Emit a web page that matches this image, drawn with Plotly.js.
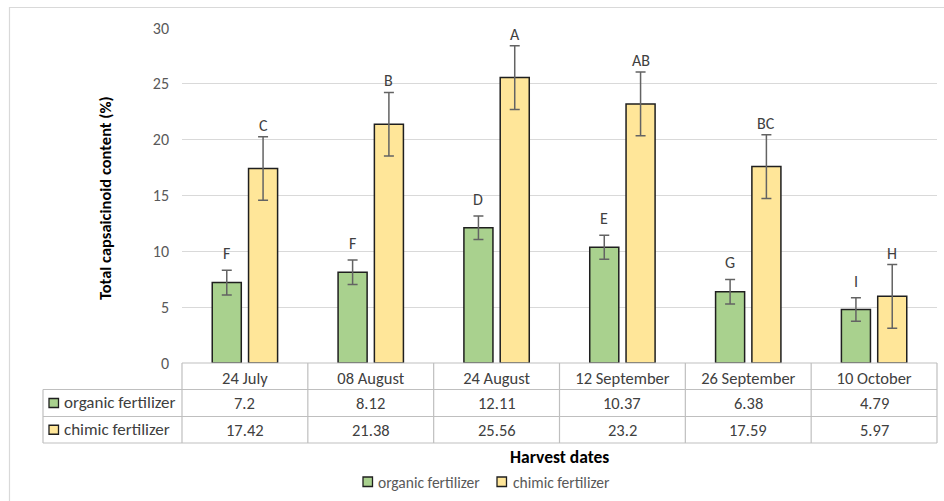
<!DOCTYPE html>
<html>
<head>
<meta charset="utf-8">
<script src="https://cdn.plot.ly/plotly-3.0.1.min.js"></script>
<style>
html,body{margin:0;padding:0;background:#fff;}
#chart{width:944px;height:501px;}
</style>
</head>
<body>
<div id="chart"></div>
<script>
// ---- data ----
var dates = ["24 July", "08 August", "24 August", "12 September", "26 September", "10 October"];
var seriesNames = ["organic fertilizer", "chimic fertilizer"];
var organic = [7.2, 8.12, 12.11, 10.37, 6.38, 4.79];
var chimic = [17.42, 21.38, 25.56, 23.2, 17.59, 5.97];
var organicErr = [1.1, 1.1, 1.05, 1.07, 1.1, 1.06];
var chimicErr = [2.85, 2.85, 2.85, 2.85, 2.85, 2.85];
var organicLetters = ["F", "F", "D", "E", "G", "I"];
var chimicLetters = ["C", "B", "A", "AB", "BC", "H"];
var yTicks = [0, 5, 10, 15, 20, 25, 30];

// ---- style ----
var FONT = "Calibri, Carlito, Lato, sans-serif";
var GREEN = "#a9d18e", YELLOW = "#ffe699", EDGE = "#1f1f1f";
var GRID = "#d9d9d9", TBL = "#bfbfbf", TXT = "#404040", TICK = "#595959";
var W = 944, H = 501;
var M = {l: 182, r: 7, t: 28, b: 138};
var PW = W - M.l - M.r, PH = H - M.t - M.b;
function px(x) { return (x - M.l) / PW; }
function py(y) { return (H - M.b - y) / PH; }
var bargap = 0.423;
var off = (1 - bargap) / 4;

var traces = [
  {type: "bar", name: seriesNames[0], x: dates, y: organic,
   marker: {color: GREEN, line: {color: EDGE, width: 1.5}},
   error_y: {type: "data", array: organicErr, visible: true, color: "#636363", thickness: 1.5, width: 5},
   showlegend: false, hoverinfo: "x+y"},
  {type: "bar", name: seriesNames[1], x: dates, y: chimic,
   marker: {color: YELLOW, line: {color: EDGE, width: 1.5}},
   error_y: {type: "data", array: chimicErr, visible: true, color: "#636363", thickness: 1.5, width: 5},
   showlegend: false, hoverinfo: "x+y"}
];

var shapes = [], ann = [];
function line(x0, y0, x1, y1, color, w) {
  shapes.push({type: "line", xref: "paper", yref: "paper", x0: px(x0), y0: py(y0), x1: px(x1), y1: py(y1),
    line: {color: color, width: w || 1}, layer: "above"});
}
// outer border (top & left)
line(9, 7.5, 944, 7.5, "#d9d9d9", 1.2);
line(9.5, 7, 9.5, 501, "#d9d9d9", 1.2);

// table geometry
var rowY = [363, 389.5, 416.5, 443];
var tblLeft = 43, tblRight = M.l + PW;
line(M.l, rowY[0], tblRight, rowY[0], TBL, 1.2);
for (var r = 1; r < rowY.length; r++) line(tblLeft, rowY[r], tblRight, rowY[r], TBL, 1.2);
line(tblLeft, rowY[1], tblLeft, rowY[3], TBL, 1.2);
for (var c = 0; c <= dates.length; c++) {
  var xx = M.l + c * PW / dates.length;
  line(xx, rowY[0], xx, rowY[3], TBL, 1.2);
}
// table rows
var rows = [organic, chimic];
var rowColors = [GREEN, YELLOW];
for (var r = 0; r < 2; r++) {
  var yc = (rowY[r + 1] + rowY[r + 2]) / 2;
  shapes.push({type: "rect", xref: "paper", yref: "paper",
    x0: px(49), x1: px(58.5), y0: py(yc - 4.5), y1: py(yc + 4.5),
    fillcolor: rowColors[r], line: {color: EDGE, width: 1.3}, layer: "above"});
  ann.push({xref: "paper", yref: "paper", x: px(62), y: py(yc), xanchor: "left", yanchor: "middle",
    text: seriesNames[r], showarrow: false, font: {family: FONT, size: 17, color: TXT}});
  for (var i = 0; i < dates.length; i++) {
    ann.push({xref: "x", yref: "paper", x: i, y: py(yc), xanchor: "center", yanchor: "middle",
      text: String(rows[r][i]), showarrow: false, font: {family: FONT, size: 16.5, color: TXT}});
  }
}
// letters above error bars
for (var i = 0; i < dates.length; i++) {
  ann.push({xref: "x", yref: "y", x: i - off, y: organic[i] + organicErr[i], yanchor: "bottom", yshift: 5,
    text: organicLetters[i], showarrow: false, font: {family: FONT, size: 16, color: TXT}});
  ann.push({xref: "x", yref: "y", x: i + off, y: chimic[i] + chimicErr[i], yanchor: "bottom", yshift: 0,
    text: chimicLetters[i], showarrow: false, font: {family: FONT, size: 16, color: TXT}});
}
// y title
ann.push({xref: "paper", yref: "paper", x: px(105), y: py(198), xanchor: "center", yanchor: "middle",
  textangle: -90, text: "<b>Total capsaicinoid content (%)</b>", showarrow: false,
  font: {family: FONT, size: 16.5, color: "#000"}});
// x title
ann.push({xref: "paper", yref: "paper", x: px(559.5), y: py(457), xanchor: "center", yanchor: "middle",
  text: "<b>Harvest dates</b>", showarrow: false, font: {family: FONT, size: 17.5, color: "#000"}});
// bottom legend
var legSq = [363, 497], legTx = [376, 511];
for (var r = 0; r < 2; r++) {
  shapes.push({type: "rect", xref: "paper", yref: "paper",
    x0: px(legSq[r]), x1: px(legSq[r] + 9.5), y0: py(486.5), y1: py(477),
    fillcolor: rowColors[r], line: {color: EDGE, width: 1.3}, layer: "above"});
  ann.push({xref: "paper", yref: "paper", x: px(legTx[r]), y: py(482), xanchor: "left", yanchor: "middle",
    text: seriesNames[r], showarrow: false, font: {family: FONT, size: 15.5, color: TICK}});
}

var layout = {
  width: W, height: H, margin: M,
  paper_bgcolor: "#fff", plot_bgcolor: "#fff",
  barmode: "group", bargap: bargap, bargroupgap: 0.2,
  font: {family: FONT},
  xaxis: {type: "category", showgrid: false, zeroline: false, showline: false, ticks: "",
    tickfont: {family: FONT, size: 16.5, color: TXT}, ticklabelstandoff: 3, fixedrange: true},
  yaxis: {range: [0, 30], tickvals: yTicks, ticktext: yTicks.map(String), showgrid: true, gridcolor: GRID, gridwidth: 1.3,
    zeroline: false, showline: false, ticks: "", tickfont: {family: FONT, size: 16, color: TICK},
    ticklabelstandoff: 12, fixedrange: true},
  shapes: shapes, annotations: ann, showlegend: false
};
Plotly.newPlot("chart", traces, layout, {staticPlot: true, displayModeBar: false});
</script>
</body>
</html>
